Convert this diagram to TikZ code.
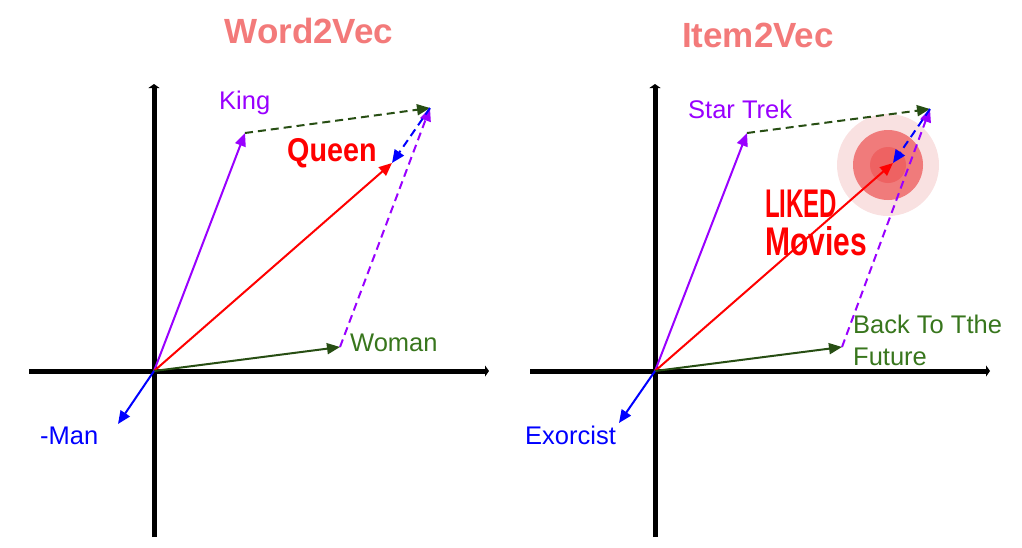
\documentclass[tikz,border=0pt]{standalone}
\usepackage{fontspec}
\setmainfont{Liberation Sans}
\usepackage{xcolor}
\usetikzlibrary{arrows.meta}

\definecolor{vpurple}{HTML}{9900FF}
\definecolor{vgreen}{HTML}{274E13}
\definecolor{lgreen}{HTML}{38761D}
\definecolor{vblue}{HTML}{0000FF}
\definecolor{vred}{HTML}{FF0000}
\definecolor{titlered}{HTML}{F37A7A}
\definecolor{haloA}{HTML}{F9E1E1}
\definecolor{haloB}{HTML}{F07B7B}
\definecolor{haloC}{HTML}{EE6262}

\begin{document}
\begin{tikzpicture}[
  x=1pt, y=-1pt,
  axis/.style={line width=5pt, -{Triangle[length=4pt, width=11pt]}},
  vec/.style={line width=2pt, -{Triangle[length=13pt, width=11pt]}},
  dvec/.style={vec, dash pattern=on 8pt off 5pt},
  title/.style={font=\bfseries\fontsize{35}{40}\selectfont, text=titlered, anchor=base, inner sep=0pt},
  word/.style={font=\fontsize{25.5}{32}\selectfont, anchor=base west, inner sep=0pt, align=left},
  shout/.style={font=\bfseries\fontsize{40}{38}\selectfont, text=vred, anchor=base west, inner sep=0pt},
]
\useasboundingbox (0,0) rectangle (1022,547);

% ─── Left panel: Word2Vec ───
\begin{scope}[shift={(154,371)}]
  \node[title] (t1) at (155,-328) {Word2Vec};

  % Axes
  \coordinate (o1) at (0,0);
  \draw[axis] (-125,0) -- (335,0);
  \draw[axis] (0,166) -- (0,-287);

  % Word vectors
  \coordinate (king) at (91,-238);
  \coordinate (top1) at (276,-263);
  \coordinate (queen) at (238,-208);
  \coordinate (woman) at (186,-24);
  \coordinate (man) at (-36,53);

  \draw[dvec, vgreen] (king) -- (top1);
  \draw[dvec, vpurple] (woman) -- (top1);
  \draw[dvec, vblue] (top1) -- (queen);
  \draw[vec, vpurple] (o1) -- (king);
  \draw[vec, vred] (o1) -- (queen);
  \draw[vec, vgreen] (o1) -- (woman);
  \draw[vec, vblue] (o1) -- (man);

  \node[word, text=vpurple] (kinglbl) at (65,-262) {King};
  \node[word, text=lgreen] (womanlbl) at (196,-20) {Woman};
  \node[word, text=vblue] (manlbl) at (-114,73) {-Man};
  \node[shout, font=\bfseries\fontsize{33}{38}\selectfont] (queenlbl) at (133,-210) {\scalebox{0.87}[1]{Queen}};
\end{scope}

% ─── Right panel: Item2Vec ───
\begin{scope}[shift={(655,371)}]
  \node[title] (t2) at (103,-324) {Item2Vec};

  % Axes
  \coordinate (o2) at (0,0);
  \draw[axis] (-125,0) -- (335,0);
  \draw[axis] (0,166) -- (0,-287);

  % Liked region
  \coordinate (hot) at (233,-206);
  \fill[haloA] (hot) circle (51);
  \fill[haloB] (hot) circle (35);
  \fill[haloC] (hot) circle (18);

  % Item vectors
  \coordinate (trek) at (92,-238);
  \coordinate (top2) at (275,-262);
  \coordinate (liked) at (238,-208);
  \coordinate (bttf) at (187,-24);
  \coordinate (exorcist) at (-36,52);

  \draw[dvec, vgreen] (trek) -- (top2);
  \draw[dvec, vpurple] (bttf) -- (top2);
  \draw[dvec, vblue] (top2) -- (liked);
  \draw[vec, vpurple] (o2) -- (trek);
  \draw[vec, vred] (o2) -- (liked);
  \draw[vec, vgreen] (o2) -- (bttf);
  \draw[vec, vblue] (o2) -- (exorcist);

  \node[word, text=vpurple] (treklbl) at (33,-253) {Star Trek};
  \node[word, text=lgreen] (bttflbl) at (198,-6) {Back To Tthe\\Future};
  \node[word, text=vblue] (exorcistlbl) at (-130,73) {Exorcist};
  \node[shout] (likedlbl) at (110,-154) {\scalebox{0.6}[1]{LIKED}};
  \node[shout] (movieslbl) at (110,-116) {\scalebox{0.75}[1]{Movies}};
\end{scope}

\end{tikzpicture}
\end{document}
